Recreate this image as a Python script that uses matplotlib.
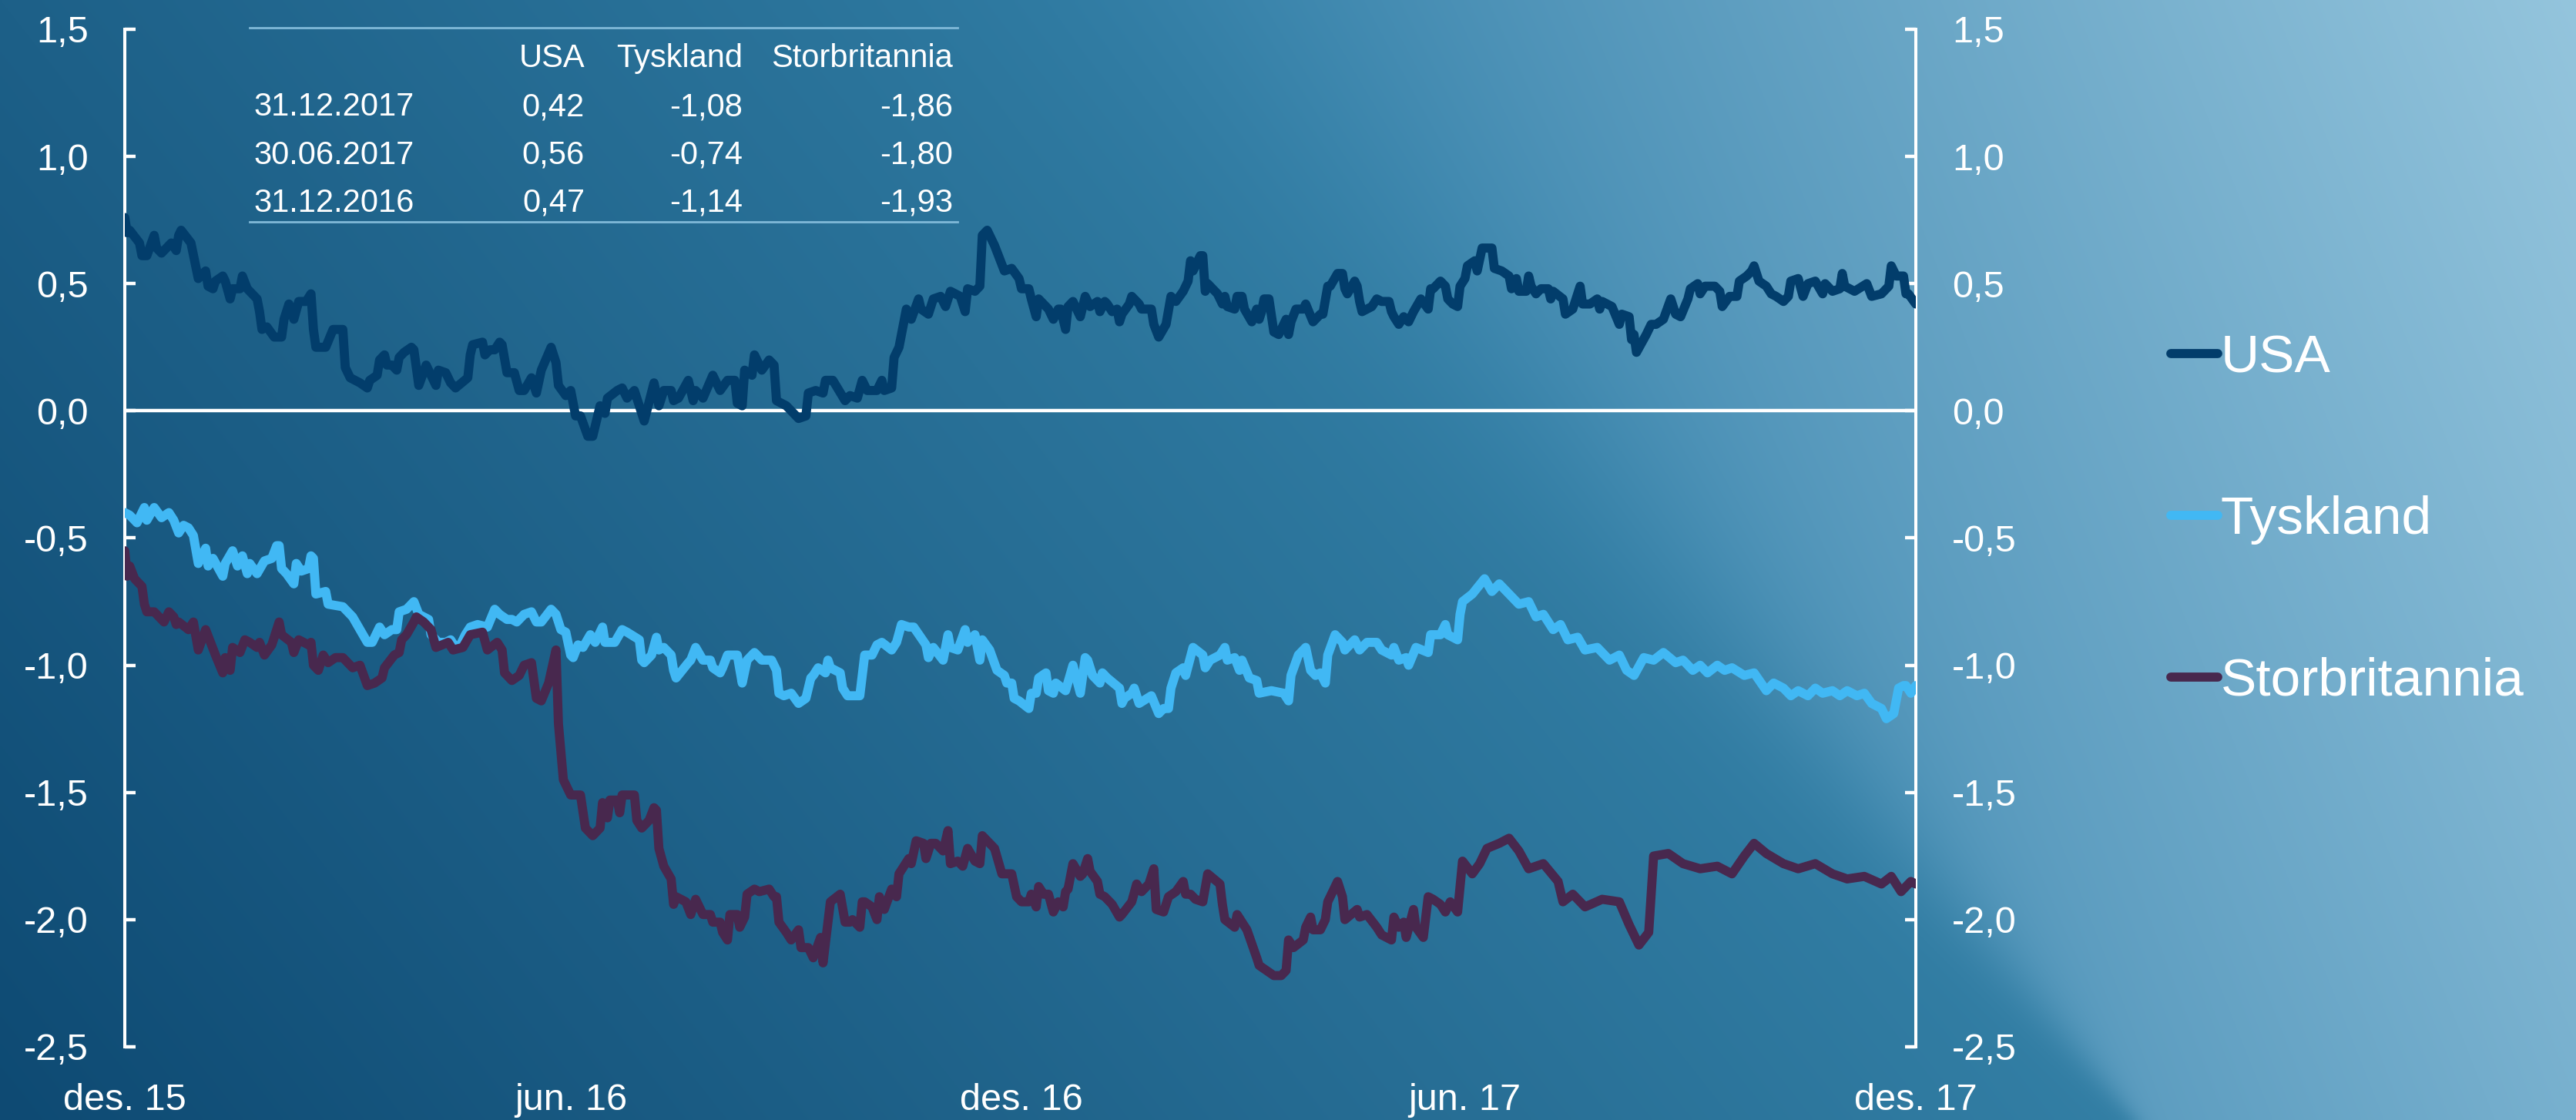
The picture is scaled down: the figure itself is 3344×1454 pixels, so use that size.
import numpy as np
import pandas as pd
import matplotlib
matplotlib.use("Agg")
import matplotlib.pyplot as plt
from matplotlib.lines import Line2D
from matplotlib.ticker import FuncFormatter

plt.rcParams['font.family'] = ['Liberation Sans', 'DejaVu Sans']
plt.rcParams['axes.unicode_minus'] = False

# ---- data (days since 31.12.2015, value) ----
start = pd.Timestamp('2015-12-31')
tick_days = [0, 182, 366, 547, 731]
tick_labels = ['des. 15', 'jun. 16', 'des. 16', 'jun. 17', 'des. 17']
series_names = ['USA', 'Tyskland', 'Storbritannia']
series_colors = ['#023d6b', '#41b8f4', '#48284e']

usa = [
    (0, 0.76), (1, 0.70), (2, 0.71), (6, 0.66), (7, 0.61), (9, 0.61), (12, 0.69), (13, 0.64), (15, 0.62), (17, 0.64),
    (19, 0.66), (21, 0.63), (22, 0.69), (23, 0.71), (27, 0.66), (30, 0.52), (33, 0.55), (34, 0.49), (36, 0.48), (37, 0.51),
    (40, 0.53), (41, 0.51), (43, 0.44), (44, 0.48), (47, 0.48), (48, 0.53), (50, 0.48), (54, 0.44), (55, 0.39), (56, 0.32),
    (58, 0.33), (61, 0.29), (64, 0.29), (65, 0.36), (67, 0.42), (69, 0.36), (71, 0.43), (74, 0.43), (76, 0.46), (77, 0.32),
    (78, 0.25), (82, 0.25), (85, 0.32), (89, 0.32), (90, 0.17), (92, 0.13), (96, 0.11), (99, 0.09), (100, 0.12), (103, 0.14),
    (104, 0.20), (106, 0.22), (107, 0.18), (109, 0.18), (111, 0.16), (112, 0.21), (114, 0.23), (117, 0.25), (118, 0.24), (120, 0.10),
    (123, 0.18), (127, 0.10), (128, 0.16), (131, 0.15), (133, 0.11), (135, 0.09), (140, 0.13), (141, 0.22), (142, 0.26), (146, 0.27),
    (147, 0.22), (149, 0.24), (151, 0.24), (153, 0.27), (154, 0.26), (156, 0.15), (159, 0.15), (161, 0.08), (163, 0.08), (166, 0.13),
    (168, 0.07), (170, 0.16), (174, 0.25), (176, 0.19), (177, 0.10), (180, 0.06),
    (182, 0.08), (184, -0.02), (186, -0.02), (189, -0.10), (191, -0.10), (194, 0.02), (196, -0.01), (197, 0.05), (201, 0.08), (203, 0.09),
    (205, 0.05), (208, 0.08), (212, -0.04), (216, 0.11), (218, 0.02), (220, 0.08), (223, 0.08), (224, 0.04), (226, 0.05), (230, 0.12),
    (232, 0.04), (233, 0.08), (236, 0.05), (240, 0.14), (243, 0.08), (246, 0.12), (249, 0.12), (250, 0.03), (252, 0.02), (253, 0.16),
    (256, 0.14), (257, 0.22), (260, 0.16), (263, 0.20), (265, 0.18), (266, 0.04), (270, 0.02), (273, -0.01), (275, -0.03), (278, -0.02),
    (279, 0.07), (282, 0.08), (285, 0.07), (286, 0.12), (289, 0.12), (294, 0.04), (296, 0.06), (299, 0.05), (301, 0.12), (303, 0.08),
    (307, 0.08), (309, 0.12), (310, 0.08), (313, 0.09), (314, 0.21), (316, 0.25), (319, 0.40), (321, 0.36), (324, 0.44), (325, 0.40),
    (328, 0.38), (330, 0.44), (333, 0.45), (335, 0.41), (337, 0.47), (341, 0.45), (343, 0.39), (344, 0.48), (347, 0.47), (349, 0.49),
    (350, 0.69), (352, 0.71), (355, 0.65), (359, 0.55), (362, 0.56), (365, 0.52),
    (366, 0.48), (369, 0.48), (370, 0.44), (372, 0.37), (373, 0.44), (375, 0.42), (377, 0.40), (379, 0.36), (381, 0.40), (382, 0.40),
    (384, 0.32), (385, 0.41), (387, 0.43), (390, 0.37), (392, 0.45), (394, 0.41), (397, 0.43), (398, 0.39), (400, 0.43), (401, 0.42),
    (403, 0.39), (405, 0.40), (406, 0.35), (407, 0.38), (410, 0.42), (411, 0.45), (414, 0.42), (415, 0.40), (419, 0.40), (420, 0.34),
    (422, 0.29), (425, 0.34), (427, 0.45), (429, 0.43), (432, 0.47), (434, 0.51), (435, 0.59), (436, 0.55), (439, 0.61), (440, 0.61),
    (441, 0.47), (442, 0.50), (446, 0.46), (448, 0.42), (449, 0.45), (450, 0.41), (453, 0.40), (454, 0.45), (456, 0.45), (457, 0.40),
    (460, 0.35), (462, 0.40), (463, 0.36), (464, 0.39), (465, 0.44), (467, 0.44), (469, 0.31), (471, 0.30), (474, 0.36), (475, 0.30),
    (476, 0.35), (478, 0.40), (481, 0.40), (482, 0.42), (485, 0.35), (488, 0.38), (489, 0.38), (491, 0.49), (492, 0.49), (495, 0.54),
    (497, 0.54), (498, 0.48), (499, 0.46), (502, 0.51), (503, 0.49), (504, 0.43), (505, 0.39), (509, 0.41), (511, 0.44), (513, 0.43),
    (516, 0.43), (517, 0.39), (518, 0.37), (520, 0.34), (522, 0.37), (524, 0.35), (526, 0.39), (529, 0.44), (532, 0.40), (533, 0.48),
    (534, 0.48), (537, 0.51), (539, 0.49), (540, 0.44), (542, 0.42), (544, 0.41), (545, 0.49), (547, 0.52), (548, 0.57),
    (551, 0.59), (552, 0.55), (554, 0.64), (558, 0.64), (559, 0.56), (562, 0.55), (565, 0.53), (566, 0.48), (568, 0.52), (569, 0.47),
    (572, 0.47), (573, 0.53), (574, 0.49), (576, 0.46), (578, 0.48), (581, 0.48), (582, 0.44), (583, 0.47), (587, 0.44), (588, 0.38),
    (591, 0.40), (594, 0.49), (595, 0.42), (598, 0.42), (601, 0.44), (602, 0.40), (603, 0.43), (607, 0.41), (610, 0.34), (611, 0.38),
    (614, 0.37), (615, 0.28), (616, 0.30), (617, 0.23), (621, 0.30), (623, 0.34), (625, 0.34), (628, 0.36), (631, 0.44), (633, 0.38),
    (635, 0.37), (638, 0.44), (639, 0.48), (642, 0.50), (643, 0.46), (645, 0.49), (649, 0.49), (651, 0.47), (652, 0.41), (655, 0.45),
    (658, 0.45), (659, 0.51), (662, 0.53), (664, 0.55), (665, 0.57), (667, 0.51), (670, 0.49), (672, 0.46), (674, 0.45), (677, 0.43),
    (679, 0.45), (680, 0.51), (683, 0.52), (685, 0.45), (687, 0.50), (690, 0.51), (693, 0.46), (694, 0.50), (697, 0.47), (700, 0.48),
    (701, 0.54), (702, 0.49), (706, 0.47), (711, 0.50), (713, 0.45), (717, 0.46), (720, 0.49), (721, 0.57), (723, 0.53), (726, 0.53),
    (727, 0.46), (728, 0.46), (731, 0.42),
]

tyskland = [
    (0, -0.40), (2, -0.41), (5, -0.44), (8, -0.38), (9, -0.43), (12, -0.38), (15, -0.42), (18, -0.40), (20, -0.43), (22, -0.48),
    (24, -0.45), (26, -0.46), (28, -0.49), (30, -0.60), (33, -0.54), (34, -0.61), (36, -0.58), (40, -0.65), (41, -0.60), (44, -0.55),
    (46, -0.61), (48, -0.57), (50, -0.64), (51, -0.60), (54, -0.64), (57, -0.59), (60, -0.58), (62, -0.53), (63, -0.53), (64, -0.62),
    (66, -0.64), (69, -0.68), (70, -0.60), (72, -0.63), (75, -0.62), (76, -0.57), (77, -0.58), (78, -0.72), (82, -0.71), (83, -0.76),
    (89, -0.77), (93, -0.81), (96, -0.86), (99, -0.91), (101, -0.91), (104, -0.85), (106, -0.88), (109, -0.86), (111, -0.86), (112, -0.79),
    (115, -0.78), (118, -0.75), (120, -0.80), (124, -0.82), (125, -0.88), (128, -0.91), (131, -0.91), (133, -0.90), (135, -0.93), (137, -0.92),
    (139, -0.88), (141, -0.85), (144, -0.84), (148, -0.85), (151, -0.78), (153, -0.80), (156, -0.82), (158, -0.82), (160, -0.83), (163, -0.80),
    (166, -0.79), (168, -0.83), (170, -0.83), (174, -0.78), (176, -0.80), (178, -0.86), (180, -0.87), (182, -0.96),
    (183, -0.97), (185, -0.92), (187, -0.93), (190, -0.88), (192, -0.91), (195, -0.85), (196, -0.91), (200, -0.91), (203, -0.86), (205, -0.87),
    (210, -0.90), (211, -0.98), (212, -0.99), (215, -0.96), (217, -0.89), (218, -0.94), (220, -0.93), (223, -0.96), (224, -1.02), (225, -1.05),
    (230, -0.99), (231, -0.98), (233, -0.93), (236, -0.98), (239, -0.98), (240, -1.01), (243, -1.03), (244, -1.01), (246, -0.96), (250, -0.96),
    (252, -1.07), (254, -0.98), (257, -0.95), (260, -0.98), (264, -0.98), (266, -1.02), (267, -1.11), (269, -1.12), (272, -1.11), (275, -1.15),
    (278, -1.13), (280, -1.05), (281, -1.04), (283, -1.01), (286, -1.03), (287, -0.98), (288, -1.01), (292, -1.03), (293, -1.09), (295, -1.12),
    (300, -1.12), (302, -0.96), (305, -0.96), (307, -0.92), (309, -0.91), (313, -0.94), (315, -0.91), (317, -0.84), (320, -0.85), (322, -0.85),
    (327, -0.92), (328, -0.97), (330, -0.93), (334, -0.98), (336, -0.88), (337, -0.93), (340, -0.94), (343, -0.86), (344, -0.91), (347, -0.88),
    (349, -0.98), (350, -0.90), (353, -0.94), (356, -1.02), (359, -1.04), (360, -1.07), (362, -1.07), (363, -1.13),
    (365, -1.14), (369, -1.17), (370, -1.11), (372, -1.11), (373, -1.05), (376, -1.03), (377, -1.10), (379, -1.11), (380, -1.07), (384, -1.10),
    (387, -1.00), (390, -1.11), (392, -0.97), (393, -0.98), (395, -1.04), (398, -1.07), (399, -1.03), (401, -1.05), (406, -1.09), (407, -1.15),
    (408, -1.13), (411, -1.11), (412, -1.09), (414, -1.15), (419, -1.12), (422, -1.19), (424, -1.17), (426, -1.17), (427, -1.09), (429, -1.03),
    (432, -1.01), (433, -1.04), (436, -0.93), (440, -0.96), (441, -1.01), (443, -0.98), (447, -0.96), (449, -0.93), (450, -0.98), (453, -0.97),
    (455, -1.02), (456, -0.98), (459, -1.05), (462, -1.06), (463, -1.11), (468, -1.10), (473, -1.11), (475, -1.14), (476, -1.04), (479, -0.96),
    (482, -0.93), (484, -1.02), (486, -1.04), (488, -1.03), (490, -1.07), (491, -0.96), (494, -0.88), (497, -0.91), (498, -0.94), (502, -0.90),
    (504, -0.94), (507, -0.91), (511, -0.91), (513, -0.94), (517, -0.96), (518, -0.93), (520, -0.98), (523, -0.97), (524, -1.00), (527, -0.93),
    (532, -0.95), (533, -0.88), (537, -0.88), (539, -0.84), (540, -0.88), (544, -0.90), (545, -0.80), (546, -0.75), (550, -0.72),
    (555, -0.66), (558, -0.71), (561, -0.68), (565, -0.72), (569, -0.76), (573, -0.75), (576, -0.81), (579, -0.80), (583, -0.86), (586, -0.84),
    (589, -0.90), (593, -0.89), (596, -0.94), (601, -0.93), (606, -0.98), (610, -0.96), (613, -1.02), (616, -1.04), (620, -0.97), (624, -0.98),
    (628, -0.95), (633, -0.99), (636, -0.98), (640, -1.02), (643, -1.00), (646, -1.03), (650, -1.00), (653, -1.02), (656, -1.01), (661, -1.04),
    (665, -1.03), (670, -1.10), (673, -1.07), (677, -1.09), (680, -1.12), (683, -1.10), (687, -1.12), (690, -1.09), (693, -1.11), (697, -1.10),
    (700, -1.12), (703, -1.10), (707, -1.12), (710, -1.11), (713, -1.15), (717, -1.17), (719, -1.21), (722, -1.19), (724, -1.09), (726, -1.08),
    (727, -1.08), (729, -1.11), (731, -1.08),
]

storbritannia = [
    (0, -0.55), (1, -0.65), (2, -0.61), (4, -0.66), (7, -0.69), (8, -0.76), (9, -0.79), (12, -0.79), (14, -0.81), (16, -0.83),
    (18, -0.79), (20, -0.81), (21, -0.84), (22, -0.83), (26, -0.86), (28, -0.83), (30, -0.94), (33, -0.86), (35, -0.91), (37, -0.96),
    (40, -1.03), (41, -0.97), (43, -1.02), (44, -0.93), (47, -0.95), (49, -0.90), (51, -0.91), (54, -0.93), (55, -0.91), (57, -0.96),
    (60, -0.92), (63, -0.83), (64, -0.88), (68, -0.91), (69, -0.95), (71, -0.90), (75, -0.92), (76, -0.91), (77, -1.00), (79, -1.02),
    (81, -0.96), (83, -0.99), (86, -0.97), (89, -0.97), (93, -1.01), (96, -1.00), (99, -1.08), (102, -1.07), (105, -1.05), (106, -1.01),
    (110, -0.96), (112, -0.95), (113, -0.90), (115, -0.88), (118, -0.83), (119, -0.81), (122, -0.83), (125, -0.86), (127, -0.93), (132, -0.91),
    (134, -0.94), (138, -0.93), (141, -0.88), (146, -0.87), (148, -0.94), (152, -0.91), (154, -0.94), (155, -1.03), (158, -1.06), (161, -1.04),
    (163, -1.00), (166, -0.99), (168, -1.13), (170, -1.14), (173, -1.07), (176, -0.94), (177, -1.23), (179, -1.45), (182, -1.51),
    (183, -1.51), (186, -1.51), (188, -1.64), (191, -1.67), (194, -1.64), (195, -1.54), (197, -1.60), (198, -1.53), (201, -1.53), (202, -1.58),
    (203, -1.51), (208, -1.51), (209, -1.61), (211, -1.64), (214, -1.61), (216, -1.56), (217, -1.57), (218, -1.72), (220, -1.79), (223, -1.84),
    (224, -1.94), (225, -1.91), (229, -1.93), (231, -1.98), (233, -1.92), (236, -1.98), (239, -1.98), (240, -2.01), (243, -2.01), (244, -2.05),
    (246, -2.08), (247, -1.98), (250, -1.98), (251, -2.03), (253, -1.99), (254, -1.90), (257, -1.88), (259, -1.89), (263, -1.88), (265, -1.91),
    (266, -1.91), (267, -2.01), (270, -2.05), (272, -2.08), (275, -2.04), (276, -2.11), (279, -2.11), (281, -2.15), (284, -2.07), (285, -2.17),
    (288, -1.93), (292, -1.90), (294, -2.01), (296, -2.01), (297, -2.00), (300, -2.03), (301, -1.93), (302, -1.93), (305, -1.95), (307, -2.00),
    (308, -1.91), (310, -1.96), (313, -1.88), (315, -1.91), (316, -1.82), (320, -1.76), (321, -1.78), (323, -1.69), (326, -1.70), (327, -1.76),
    (329, -1.70), (331, -1.70), (334, -1.73), (336, -1.65), (337, -1.78), (340, -1.77), (342, -1.79), (344, -1.72), (347, -1.77), (349, -1.78),
    (350, -1.67), (355, -1.72), (358, -1.82), (362, -1.82), (364, -1.91),
    (366, -1.93), (369, -1.93), (370, -1.90), (372, -1.95), (373, -1.87), (375, -1.90), (377, -1.90), (379, -1.97), (381, -1.93), (383, -1.95),
    (384, -1.89), (385, -1.88), (387, -1.78), (390, -1.83), (391, -1.82), (393, -1.76), (394, -1.81), (397, -1.85), (398, -1.90), (400, -1.91),
    (403, -1.94), (406, -1.99), (407, -1.98), (411, -1.93), (413, -1.86), (415, -1.89), (418, -1.86), (420, -1.80), (421, -1.96), (424, -1.97),
    (426, -1.91), (429, -1.89), (432, -1.85), (433, -1.90), (435, -1.90), (437, -1.92), (440, -1.93), (442, -1.82), (447, -1.86), (448, -1.94),
    (449, -2.00), (453, -2.03), (454, -1.98), (458, -2.04), (462, -2.15), (463, -2.18), (466, -2.20), (469, -2.22), (472, -2.22), (474, -2.20),
    (475, -2.08), (477, -2.11), (481, -2.08), (482, -2.03), (484, -1.99), (485, -2.04), (488, -2.04), (490, -2.00), (491, -1.93), (495, -1.85),
    (497, -1.91), (498, -2.00), (503, -1.96), (504, -1.99), (507, -1.98), (511, -2.03), (513, -2.06), (517, -2.08), (518, -1.99), (520, -2.03),
    (522, -2.01), (523, -2.07), (526, -1.96), (527, -2.03), (530, -2.07), (532, -1.91), (534, -1.92), (537, -1.94), (539, -1.97), (541, -1.93),
    (544, -1.97), (546, -1.77), (550, -1.82),
    (553, -1.78), (556, -1.72), (561, -1.70), (565, -1.68), (569, -1.73), (573, -1.80), (579, -1.78), (585, -1.85), (587, -1.93), (591, -1.90),
    (596, -1.95), (603, -1.92), (610, -1.93), (614, -2.02), (618, -2.10), (622, -2.05), (624, -1.75), (630, -1.74), (636, -1.78), (643, -1.80),
    (650, -1.79), (656, -1.82), (661, -1.75), (665, -1.70), (670, -1.74), (677, -1.78), (683, -1.80), (690, -1.78), (697, -1.82), (703, -1.84),
    (710, -1.83), (717, -1.86), (721, -1.83), (725, -1.89), (729, -1.85), (731, -1.86),
]

table_header = ['USA', 'Tyskland', 'Storbritannia']
table_dates = ['31.12.2017', '30.06.2017', '31.12.2016']
table_usa = [0.42, 0.56, 0.47]
table_tysk = [-1.08, -0.74, -1.14]
table_uk = [-1.86, -1.80, -1.93]


def comma(v, nd):
    return f"{v:.{nd}f}".replace('.', ',')


fig = plt.figure(figsize=(33.44, 14.54), dpi=100)

# background gradient (dark band on the left, lighter wedge to the right)
H, W = 341, 784
vv, uu = np.mgrid[0:H, 0:W]
u = uu / (W - 1)
v = vv / (H - 1)
c_bl = np.array([14, 74, 115.0])
dx = np.array([37, 53, 50.0])
dy = np.array([15, 22, 21.0])
dark = c_bl + (1.206 * u)[..., None] * dx + (1 - v)[..., None] * dy
ca = np.array([-42, 60.6, 120.7])
aa = np.array([162, 116, 86.0])
bb = np.array([28, 20, 14.0])
light = ca + u[..., None] * aa + (1 - v)[..., None] * bb
d = 1568 * u - (750 + 550 * v)
w = 4 + 70 * (1 - v)
m = 1 / (1 + np.exp(-d / w))
img = np.clip((1 - m)[..., None] * dark + m[..., None] * light, 0, 255) / 255
bg = fig.add_axes([0, 0, 1, 1])
bg.imshow(img, aspect='auto', extent=[0, 1, 0, 1], interpolation='bilinear')
bg.axis('off')

ax = fig.add_axes([0.04844, 0.06534, 0.69526, 0.90853])
ax.patch.set_alpha(0)

handles = []
for pts, name, col in zip([usa, tyskland, storbritannia], series_names, series_colors):
    days = [p[0] for p in pts]
    vals = [p[1] for p in pts]
    dates = start + pd.to_timedelta(days, unit='D')
    ln, = ax.plot(dates, vals, color=col, lw=8.5, solid_joinstyle='round',
                  solid_capstyle='round', label=name, zorder=3)
    handles.append(ln)

ax.axhline(0, color='white', lw=3.2, zorder=2)

ax.set_xlim(start, start + pd.Timedelta(days=731))
ax.set_ylim(-2.5, 1.5)
ax.set_yticks(np.arange(-2.5, 1.51, 0.5))
ax.yaxis.set_major_formatter(FuncFormatter(lambda val, pos: comma(val, 1)))
ax.set_xticks([start + pd.Timedelta(days=t) for t in tick_days])
ax.set_xticklabels(tick_labels)

for s in ['top', 'bottom']:
    ax.spines[s].set_visible(False)
for s in ['left', 'right']:
    ax.spines[s].set_color('white')
    ax.spines[s].set_linewidth(2.9)

ax.tick_params(axis='y', direction='in', length=10, width=3.2, colors='white',
               labelsize=35, pad=34, left=True, right=True, labelleft=True, labelright=True)
ax.tick_params(axis='x', length=0, colors='white', labelsize=35, pad=34)

# table at the top left
tc = '#80b9d8'
fig.add_artist(Line2D([324 / 3344, 1243 / 3344], [1 - 36 / 1454] * 2, transform=fig.transFigure, color=tc, lw=2))
fig.add_artist(Line2D([324 / 3344, 1243 / 3344], [1 - 288 / 1454] * 2, transform=fig.transFigure, color=tc, lw=2))
col_x = [759 / 3344, 964 / 3344, 1237 / 3344]
row_y = [1 - 150 / 1454, 1 - 213 / 1454, 1 - 275 / 1454]
for cx, h in zip(col_x, table_header):
    fig.text(cx, 1 - 87 / 1454, h, color='white', fontsize=30, ha='right', va='baseline')
for i, ry in enumerate(row_y):
    fig.text(329 / 3344, ry, table_dates[i], color='white', fontsize=30, ha='left', va='baseline')
    for cx, val in zip(col_x, [table_usa[i], table_tysk[i], table_uk[i]]):
        fig.text(cx, ry, comma(val, 2), color='white', fontsize=30, ha='right', va='baseline')

ax.legend(handles, series_names, loc='center left', bbox_to_anchor=(2818 / 3344, 1 - 675 / 1454),
          bbox_transform=fig.transFigure, frameon=False, fontsize=50, handlelength=0.88,
          handletextpad=0.05, labelspacing=2.1, borderpad=0, borderaxespad=0, labelcolor='white')

fig.savefig('out.png', dpi=100)
